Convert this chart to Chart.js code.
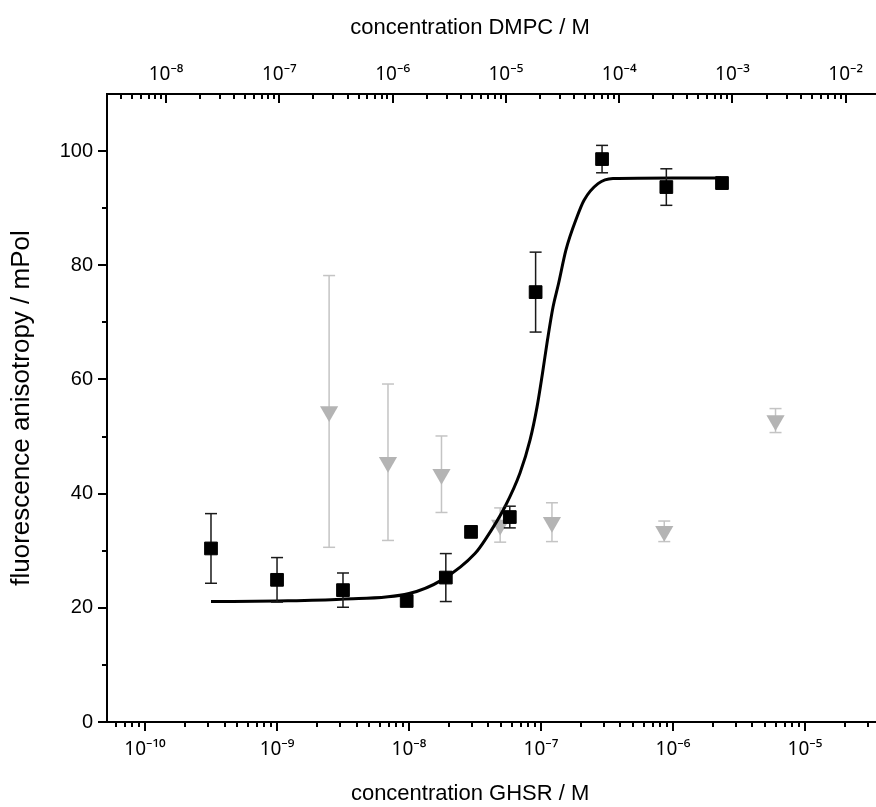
<!DOCTYPE html>
<html>
<head>
<meta charset="utf-8">
<script src="https://cdn.jsdelivr.net/npm/chart.js@4/dist/chart.umd.min.js"></script>
<style>
  html, body { margin: 0; padding: 0; background: #ffffff; }
  #wrap { width: 876px; height: 807px; }
</style>
</head>
<body>
<div id="wrap"><canvas id="c" width="876" height="807"></canvas></div>
<script>
// GHSR titration (black squares, bottom axis)
const ghsrConc  = [3.16e-10, 1.0e-9, 3.16e-9, 9.6e-9, 1.9e-8, 2.95e-8, 5.8e-8, 9.1e-8, 2.9e-7, 8.9e-7, 2.35e-6];
const ghsrAniso = [30.4, 24.9, 23.1, 21.2, 25.3, 33.3, 35.9, 75.3, 98.6, 93.7, 94.4];
const ghsrErr   = [6.1, 3.9, 3.0, 0, 4.2, 0.9, 1.9, 7.0, 2.4, 3.2, 1.0];

// DMPC titration (grey triangles, top axis)
const dmpcConc  = [2.75e-7, 9.1e-7, 2.7e-6, 8.9e-6, 2.55e-5, 2.5e-4, 2.4e-3];
const dmpcAniso = [54.4, 45.5, 43.4, 34.5, 35.0, 33.4, 52.8];
const dmpcErr   = [23.8, 13.7, 6.7, 3.0, 3.4, 1.8, 2.1];

// fitted curve (GHSR)
const fitConc  = [3.16e-10, 1.0e-9, 3.05e-9, 1.0e-8, 1.78e-8, 3.16e-8, 3.77e-8, 5.33e-8, 6.93e-8, 8.26e-8, 9.33e-8, 1.026e-7, 1.119e-7, 1.233e-7, 1.358e-7, 1.545e-7, 1.875e-7, 2.118e-7, 2.704e-7, 3.508e-7, 1.0e-6, 2.31e-6];
const fitAniso = [21.1, 21.2, 21.5, 22.5, 24.9, 29.5, 31.9, 37.7, 43.6, 49.4, 55.2, 61.1, 66.9, 72.7, 76.8, 82.7, 88.5, 91.4, 94.3, 95.2, 95.3, 95.3];

// tick labels
const bottomTickExps   = [-10, -9, -8, -7, -6, -5];
const bottomTickLabels = ['10⁻¹⁰', '10⁻⁹', '10⁻⁸', '10⁻⁷', '10⁻⁶', '10⁻⁵'];
const topTickExps      = [-8, -7, -6, -5, -4, -3, -2];
const topTickLabels    = ['10⁻⁸', '10⁻⁷', '10⁻⁶', '10⁻⁵', '10⁻⁴', '10⁻³', '10⁻²'];
const yTickValues      = [0, 20, 40, 60, 80, 100];
const yTickLabels      = ['0', '20', '40', '60', '80', '100'];

const FONT = '"Liberation Sans", Arial, Helvetica, sans-serif';
const TICKFONT = '"Noto Sans", "DejaVu Sans", sans-serif';
const NB = '\u00a0';

function pts(xs, ys) { return xs.map((x, i) => ({ x: x, y: ys[i] })); }
function errPts(xs, ys, es) {
  const out = [];
  xs.forEach((x, i) => {
    if (es[i] > 0) {
      out.push({ x: x, y: ys[i] - es[i] }, { x: x, y: ys[i] + es[i] }, { x: x, y: null });
    }
  });
  return out;
}
function isDecade(v) {
  const l = Math.log10(v);
  return Math.abs(l - Math.round(l)) < 1e-6;
}
function logTicks(min, max) {
  const t = [];
  for (let e = Math.floor(Math.log10(min)); e <= Math.ceil(Math.log10(max)); e++) {
    for (let m = 1; m <= 9; m++) {
      const v = m * Math.pow(10, e);
      if (v >= min && v <= max) t.push({ value: v });
    }
  }
  return t;
}
function decadeLabel(exps, labels) {
  return function (v) {
    if (!isDecade(v)) return '';
    const i = exps.indexOf(Math.round(Math.log10(v)));
    return i >= 0 ? labels[i] : '';
  };
}

const tickMarks = {
  id: 'tickMarks',
  afterDatasetsDraw(chart) {
    const ctx = chart.ctx, ca = chart.chartArea;
    const sx = chart.scales.x, st = chart.scales.x2, sy = chart.scales.y;
    ctx.save();
    ctx.strokeStyle = '#000';
    ctx.lineWidth = 2;
    ctx.beginPath();
    sx.ticks.forEach(t => {
      const p = Math.round(sx.getPixelForValue(t.value));
      const L = isDecade(t.value) ? 9 : 5;
      ctx.moveTo(p, ca.bottom); ctx.lineTo(p, ca.bottom + L);
    });
    st.ticks.forEach(t => {
      const p = Math.round(st.getPixelForValue(t.value));
      const L = isDecade(t.value) ? 9 : 5;
      ctx.moveTo(p, ca.top); ctx.lineTo(p, ca.top + L);
    });
    sy.ticks.forEach(t => {
      const p = Math.round(sy.getPixelForValue(t.value));
      const L = yTickValues.includes(t.value) ? 9 : 5;
      ctx.moveTo(ca.left, p); ctx.lineTo(ca.left - L, p);
    });
    ctx.stroke();
    ctx.restore();
  }
};

new Chart(document.getElementById('c'), {
  type: 'scatter',
  data: {
    datasets: [
      {
        label: 'GHSR',
        data: pts(ghsrConc, ghsrAniso),
        xAxisID: 'x', yAxisID: 'y',
        pointStyle: 'rect', pointRadius: 9, pointHoverRadius: 9,
        backgroundColor: '#000', borderColor: '#000', borderWidth: 1,
        showLine: false
      },
      {
        label: 'GHSR error',
        data: errPts(ghsrConc, ghsrAniso, ghsrErr),
        xAxisID: 'x', yAxisID: 'y',
        showLine: true, spanGaps: false,
        borderColor: '#1a1a1a', borderWidth: 1.5,
        pointStyle: 'line', pointRadius: 6, pointHoverRadius: 6,
        pointBorderColor: '#1a1a1a', pointBorderWidth: 1.5
      },
      {
        label: 'fit',
        data: pts(fitConc, fitAniso),
        xAxisID: 'x', yAxisID: 'y',
        showLine: true, pointRadius: 0, pointHoverRadius: 0,
        borderColor: '#000', borderWidth: 3,
        cubicInterpolationMode: 'monotone'
      },
      {
        label: 'DMPC',
        data: pts(dmpcConc, dmpcAniso),
        xAxisID: 'x2', yAxisID: 'y',
        pointStyle: 'triangle', rotation: 180, pointRadius: 10.5, pointHoverRadius: 10.5,
        backgroundColor: '#b4b4b4', borderColor: '#b4b4b4', borderWidth: 0,
        showLine: false
      },
      {
        label: 'DMPC error',
        data: errPts(dmpcConc, dmpcAniso, dmpcErr),
        xAxisID: 'x2', yAxisID: 'y',
        showLine: true, spanGaps: false,
        borderColor: '#c4c4c4', borderWidth: 1.5,
        pointStyle: 'line', pointRadius: 6, pointHoverRadius: 6,
        pointBorderColor: '#c4c4c4', pointBorderWidth: 1.5
      }
    ]
  },
  options: {
    responsive: false,
    animation: false,
    devicePixelRatio: 1,
    layout: { padding: 0, autoPadding: false },
    plugins: { legend: { display: false }, tooltip: { enabled: false } },
    scales: {
      x: {
        type: 'logarithmic', position: 'bottom',
        min: 5.15e-11, max: 3.45e-5,
        afterBuildTicks: s => { s.ticks = logTicks(s.min, s.max); },
        afterFit: s => { s.height = 85; s.paddingLeft = 0; s.paddingRight = 0; },
        grid: { display: false, drawTicks: false },
        border: { display: true, color: '#000', width: 2 },
        ticks: {
          autoSkip: false, maxRotation: 0, minRotation: 0, padding: 16, color: '#000',
          font: { family: TICKFONT, size: 19 },
          callback: decadeLabel(bottomTickExps, bottomTickLabels)
        },
        title: {
          display: true, text: 'concentration GHSR / M' + NB.repeat(7), color: '#000',
          font: { family: FONT, size: 22 }, padding: { top: 0, bottom: 0 }
        }
      },
      x2: {
        type: 'logarithmic', position: 'top',
        min: 3.01e-9, max: 1.85e-2,
        afterBuildTicks: s => { s.ticks = logTicks(s.min, s.max); },
        afterFit: s => { s.height = 94; s.paddingLeft = 0; s.paddingRight = 0; },
        grid: { display: false, drawTicks: false },
        border: { display: true, color: '#000', width: 2 },
        ticks: {
          autoSkip: false, maxRotation: 0, minRotation: 0, padding: 8, color: '#000',
          font: { family: TICKFONT, size: 19 },
          callback: decadeLabel(topTickExps, topTickLabels)
        },
        title: {
          display: true, text: 'concentration DMPC / M' + NB.repeat(7), color: '#000',
          font: { family: FONT, size: 22 }, padding: { top: 15, bottom: 0 }
        }
      },
      y: {
        type: 'linear', position: 'left',
        min: 0, max: 110,
        afterBuildTicks: s => {
          const t = [];
          for (let v = 0; v <= 100; v += 10) t.push({ value: v });
          s.ticks = t;
        },
        afterFit: s => { s.width = 107; s.paddingTop = 0; s.paddingBottom = 0; },
        grid: { display: false, drawTicks: false },
        border: { display: true, color: '#000', width: 2 },
        ticks: {
          autoSkip: false, padding: 14, color: '#000',
          font: { family: FONT, size: 20 },
          callback: v => { const i = yTickValues.indexOf(v); return i >= 0 ? yTickLabels[i] : ''; }
        },
        title: {
          display: true, text: 'fluorescence anisotropy / mPol', color: '#000',
          font: { family: FONT, size: 26 }, padding: { top: 6, bottom: 0 }
        }
      }
    }
  },
  plugins: [tickMarks]
});
</script>
</body>
</html>
